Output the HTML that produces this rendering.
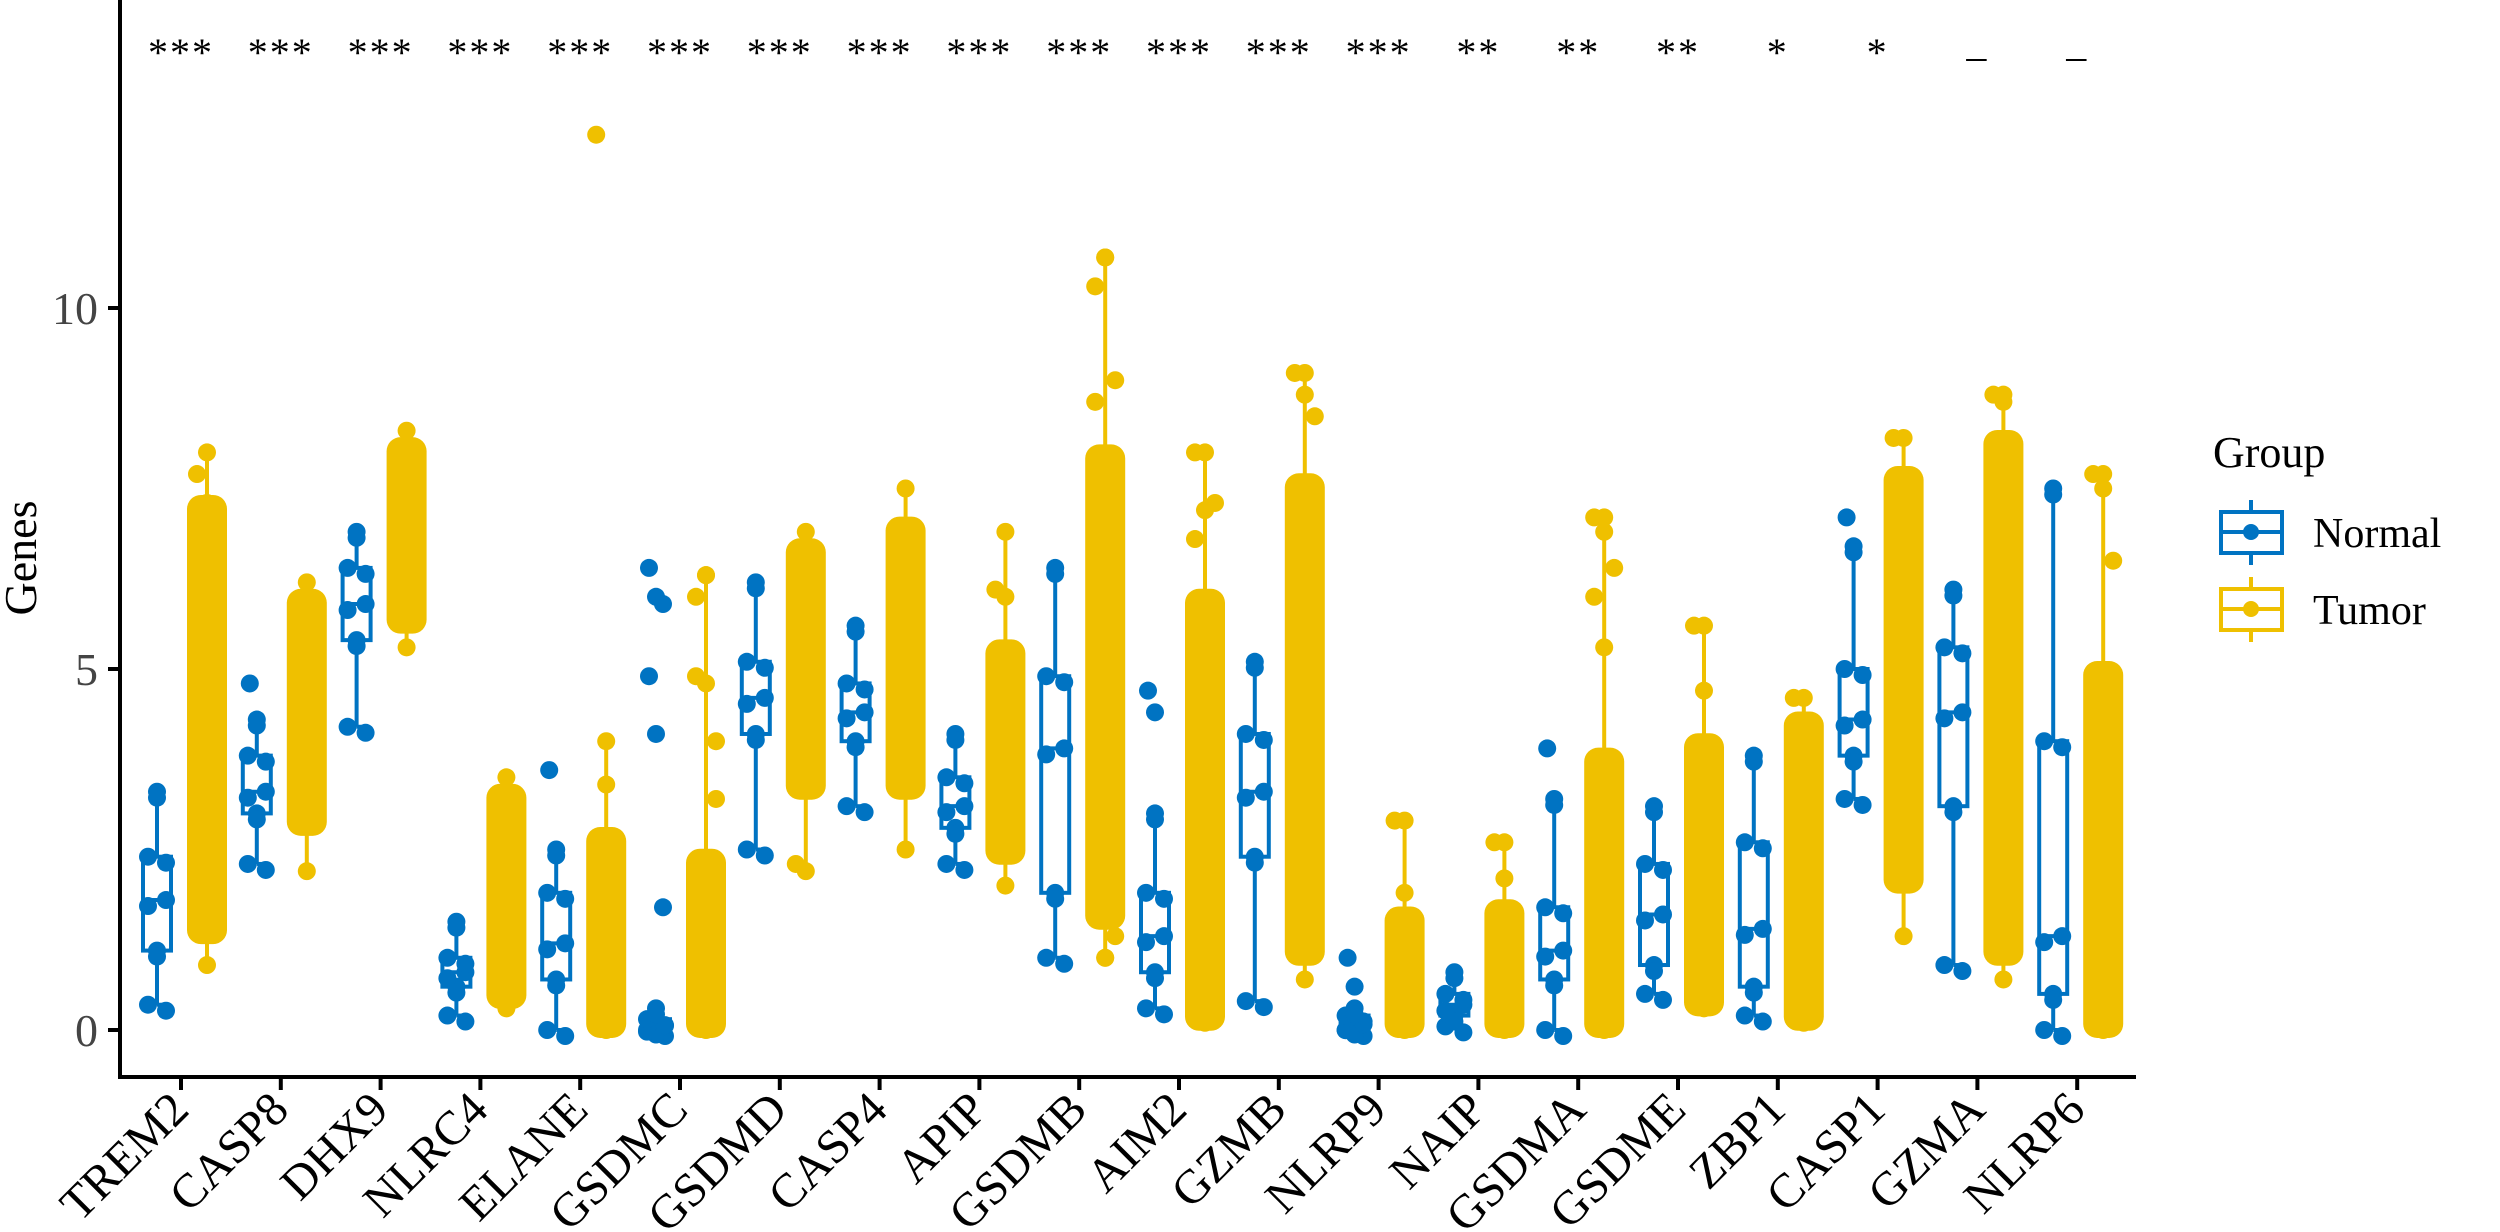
<!DOCTYPE html>
<html><head><meta charset="utf-8"><style>
html,body{margin:0;padding:0;background:#fff;}
svg{display:block;font-family:"Liberation Serif",serif;}
</style></head><body>
<svg id="chart" width="2500" height="1232" viewBox="0 0 2500 1232" xmlns="http://www.w3.org/2000/svg">
<g id="plot"></g>
<line x1="120" y1="0" x2="120" y2="1079" stroke="#000" stroke-width="4"/>
<line x1="118" y1="1077" x2="2136" y2="1077" stroke="#000" stroke-width="4"/>
<g id="yticks"></g>
<g id="xticks"></g>
<g id="sig"></g>
<text transform="translate(36,558) rotate(-90)" text-anchor="middle" font-size="46" fill="#000">Genes</text>
<g>
<text x="2213" y="467" font-size="44" fill="#000">Group</text>
<g>
<line x1="2251" y1="500" x2="2251" y2="565" stroke="#0073C2" stroke-width="4"/>
<rect x="2221" y="512" width="61" height="41" fill="#fff" stroke="#0073C2" stroke-width="4"/>
<line x1="2221" y1="532" x2="2282" y2="532" stroke="#0073C2" stroke-width="4"/>
<circle cx="2251" cy="532" r="8" fill="#0073C2"/>
<text x="2313" y="547" font-size="42" fill="#000">Normal</text>
</g>
<g>
<line x1="2251" y1="577" x2="2251" y2="642" stroke="#EFC000" stroke-width="4"/>
<rect x="2221" y="589" width="61" height="41" fill="#fff" stroke="#EFC000" stroke-width="4"/>
<line x1="2221" y1="609" x2="2282" y2="609" stroke="#EFC000" stroke-width="4"/>
<circle cx="2251" cy="609" r="8" fill="#EFC000"/>
<text x="2313" y="624" font-size="42" fill="#000">Tumor</text>
</g>
</g>
</svg>
<script>
const genes=["TREM2","CASP8","DHX9","NLRC4","ELANE","GSDMC","GSDMD","CASP4","APIP","GSDMB","AIM2","GZMB","NLRP9","NAIP","GSDMA","GSDME","ZBP1","CASP1","GZMA","NLRP6"];
const sigLabels=["***","***","***","***","***","***","***","***","***","***","***","***","***","**","**","**","*","*","_","_"];
const normMin=[0.35,2.3,4.2,0.2,0.0,0.0,2.5,3.1,2.3,1.0,0.3,0.4,0.0,0.05,0.0,0.5,0.2,3.2,0.9,0.0];
const normQ1=[1.1,3.0,5.4,0.6,0.7,0.02,4.1,4.0,2.8,1.9,0.8,2.4,0.02,0.2,0.7,0.9,0.6,3.8,3.1,0.5];
const normMed=[1.8,3.3,5.9,0.8,1.2,0.06,4.6,4.4,3.1,3.9,1.3,3.3,0.08,0.35,1.1,1.6,1.4,4.3,4.4,1.3];
const normQ3=[2.4,3.8,6.4,1.0,1.9,0.15,5.1,4.8,3.5,4.9,1.9,4.1,0.2,0.5,1.7,2.3,2.6,5.0,5.3,4.0];
const normMax=[3.3,4.3,6.9,1.5,2.5,0.3,6.2,5.6,4.1,6.4,3.0,5.1,0.3,0.8,3.2,3.1,3.8,6.7,6.1,7.5];
const normOutliers=[[],[4.8],[],[],[3.6],[6.4,6.0,5.9,4.9,4.1,1.7],[],[],[],[],[4.7,4.4],[],[1.0,0.6],[],[3.9],[],[],[7.1],[],[]];
const tumMin=[0.9,2.2,5.3,0.3,0.0,0.0,2.2,2.5,2.0,1.0,0.1,0.7,0.0,0.0,0.0,0.3,0.1,1.3,0.7,0.0];
const tumLow=[1.3,2.8,5.6,0.4,0.0,0.0,3.3,3.3,2.4,1.5,0.1,1.0,0.0,0.0,0.0,0.3,0.1,2.0,1.0,0.0];
const tumHigh=[7.3,6.0,8.1,3.3,2.7,2.4,6.7,7.0,5.3,8.0,6.0,7.6,1.6,1.7,3.8,4.0,4.3,7.7,8.2,5.0];
const tumMax=[8.0,6.2,8.3,3.5,4.0,6.3,6.9,7.5,6.9,10.7,8.0,9.1,2.9,2.6,7.1,5.6,4.6,8.2,8.8,7.7];
const tumOutliers=[[7.7,7.3],[],[],[],[12.4,3.4],[4.9,4.8,4.0,6.0,6.3,3.2],[2.3],[],[6.1,6.0],[10.3,10.7,9.0,8.7,1.0,1.3],[8.0,7.2,7.3,6.8],[9.1,8.8,8.5],[2.9,1.9],[2.6,2.1],[7.1,6.9,6.4,6.0,5.3],[5.6,4.7],[4.6],[8.2],[8.8,8.7,7.9],[7.7,7.5,6.5]];

const NS="http://www.w3.org/2000/svg";
const BLUE="#0073C2",YEL="#EFC000";
const y0=1030,pxPerUnit=72.2,x0=181,step=99.8;
const yScale=v=>y0-v*pxPerUnit;
const xScale=i=>x0+i*step;
function mk(tag,attrs,parent){const e=document.createElementNS(NS,tag);for(const k in attrs)e.setAttribute(k,attrs[k]);parent.appendChild(e);return e;}
const plot=document.getElementById("plot");
const yt=document.getElementById("yticks");
[0,5,10].forEach(v=>{
  const g=mk("g",{},yt);
  
  
  mk("line",{x1:108,y1:yScale(v),x2:120,y2:yScale(v),stroke:"#000","stroke-width":4},g);
  const t=mk("text",{x:98,y:yScale(v)+16,"text-anchor":"end","font-size":46,fill:"#444"},g);t.textContent=v;
});
const xt=document.getElementById("xticks");
const sg=document.getElementById("sig");
genes.forEach((gname,i)=>{
  const cx=xScale(i);
  const g=mk("g",{},xt);
  
  
  mk("line",{x1:cx,y1:1077,x2:cx,y2:1090,stroke:"#000","stroke-width":4},g);
  const t=mk("text",{x:cx+10,y:1112,"text-anchor":"end","font-size":48,fill:"#000",transform:`rotate(-45 ${cx+10} 1112)`},g);t.textContent=gname;
  const s=mk("text",{x:cx,y:sigLabels[i]==="_"?56:66,"text-anchor":"middle","font-size":40,fill:"#000","letter-spacing":"2"},sg);
  
  
  s.textContent=sigLabels[i];

  const nx=cx-24;
  const ng=mk("g",{},plot);
  
  
  mk("line",{x1:nx,y1:yScale(normMin[i]),x2:nx,y2:yScale(normMax[i]),stroke:BLUE,"stroke-width":4},ng);
  mk("line",{x1:nx,y1:yScale(normMax[i]),x2:nx+8,y2:yScale(normMax[i]),stroke:BLUE,"stroke-width":4},ng);
  mk("line",{x1:nx,y1:yScale(normMin[i]),x2:nx+8,y2:yScale(normMin[i]),stroke:BLUE,"stroke-width":4},ng);
  mk("rect",{x:nx-14,y:yScale(normQ3[i]),width:28,height:Math.max(2,yScale(normQ1[i])-yScale(normQ3[i])),fill:"#fff",stroke:BLUE,"stroke-width":4},ng);
  mk("line",{x1:nx-14,y1:yScale(normMed[i]),x2:nx+14,y2:yScale(normMed[i]),stroke:BLUE,"stroke-width":4},ng);
  const vals=[normMin[i],normQ1[i],normMed[i],normQ3[i],normMax[i]];
  vals.forEach((v,k)=>{
    mk("circle",{cx:nx+((k%3)-1)*9,cy:yScale(v),r:9,fill:BLUE},ng);
    mk("circle",{cx:nx-((k%3)-1)*9,cy:yScale(v)+6,r:9,fill:BLUE},ng);
  });
  normOutliers[i].forEach((v,k)=>{mk("circle",{cx:nx+((k%3)-1)*7,cy:yScale(v),r:9,fill:BLUE},ng);});

  const tx=cx+26;
  const tg=mk("g",{},plot);
  
  
  mk("line",{x1:tx,y1:yScale(tumMin[i]),x2:tx,y2:yScale(tumMax[i]),stroke:YEL,"stroke-width":4},tg);
  mk("rect",{x:tx-20,y:yScale(tumHigh[i])-8,width:40,height:yScale(tumLow[i])-yScale(tumHigh[i])+16,rx:14,fill:YEL},tg);
  mk("circle",{cx:tx,cy:yScale(tumMin[i]),r:9,fill:YEL},tg);
  mk("circle",{cx:tx,cy:yScale(tumMax[i]),r:9,fill:YEL},tg);
  tumOutliers[i].forEach((v,k)=>{mk("circle",{cx:tx+((k%3)-1)*10,cy:yScale(v),r:9,fill:YEL},tg);});
});
</script>
</body></html>
